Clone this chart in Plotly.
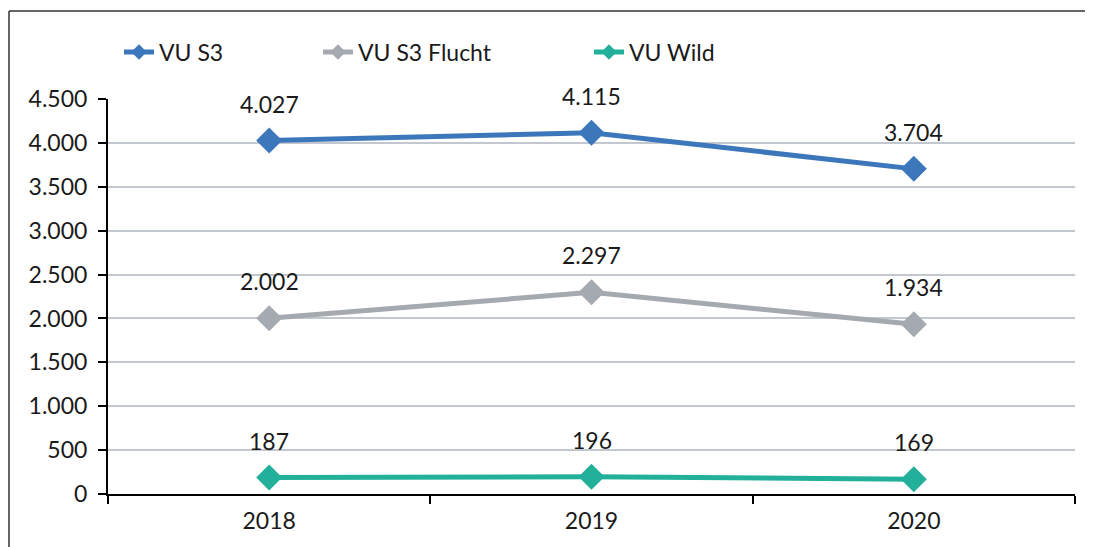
import plotly.graph_objects as go

years = ["2018", "2019", "2020"]
vu_s3 = [4027, 4115, 3704]
vu_s3_flucht = [2002, 2297, 1934]
vu_wild = [187, 196, 169]
series_names = ["VU S3", "VU S3 Flucht", "VU Wild"]
colors = ["#3d77bb", "#a5aab0", "#22b09a"]
y_ticks = [0, 500, 1000, 1500, 2000, 2500, 3000, 3500, 4000, 4500]

# page has an 8px body margin; figure coordinates = screen - 8
OFF = 8
W, H = 1093 - OFF, 547 - OFF
L = 108 - OFF
T = 99 - OFF
R = W - (1075 - OFF)
B = H - (494 - OFF)
pw, ph = W - L - R, H - T - B

def px_x(screen_x):
    return (screen_x - OFF - L) / pw

def px_y(screen_y):
    return (H - B - (screen_y - OFF)) / ph

FONT = "Lato, 'Noto Sans', sans-serif"
FS = 23
TXT = "#1a1a1a"

fig = go.Figure()
legend_names = ["legend", "legend2", "legend3"]
legend_px = [119, 318, 589]
for vals, name, col, lg in zip([vu_s3, vu_s3_flucht, vu_wild], series_names, colors, legend_names):
    fig.add_trace(go.Scatter(
        x=years, y=vals, name=name, mode="lines+markers",
        line=dict(color=col, width=5),
        marker=dict(symbol="diamond", size=20, color=col),
        legend=lg,
    ))
    for i, yv in enumerate(vals):
        fig.add_annotation(x=i, y=yv, xref="x", yref="y",
                           text=f"{yv:,}".replace(",", "."),
                           showarrow=False, yshift=37,
                           font=dict(family=FONT, size=FS, color=TXT))

leg_common = dict(orientation="h", yanchor="middle", xanchor="left",
                  font=dict(family=FONT, size=FS, color=TXT),
                  bgcolor="rgba(0,0,0,0)", itemsizing="constant",
                  tracegroupgap=0)
layout_legends = {}
for lg, xp in zip(legend_names, legend_px):
    layout_legends[lg] = dict(x=px_x(xp), y=px_y(52), **leg_common)

fig.update_layout(
    width=W, height=H,
    margin=dict(l=L, r=R, t=T, b=B),
    paper_bgcolor="white", plot_bgcolor="white",
    separators=",.",
    font=dict(family=FONT, size=FS, color=TXT),
    showlegend=True,
    **layout_legends,
)

fig.update_xaxes(
    type="category", range=[-0.5, 2.5],
    showline=True, linecolor="black", linewidth=2,
    ticks="outside", tickson="boundaries", ticklen=8, tickwidth=2, tickcolor="black",
    showgrid=False, zeroline=False, ticklabelstandoff=5,
    tickfont=dict(family=FONT, size=FS, color=TXT),
)
fig.update_yaxes(
    range=[0, 4500], tickvals=y_ticks, tickformat=",d",
    showline=True, linecolor="black", linewidth=2,
    ticks="outside", ticklen=8, tickwidth=2, tickcolor="black",
    showgrid=True, gridcolor="#c3c7cf", gridwidth=1.5, zeroline=False,
    ticklabelstandoff=6,
    tickfont=dict(family=FONT, size=FS, color=TXT),
)

# outer chart frame (only top and left edges visible in the cropped image)
fig.add_shape(type="line", xref="paper", yref="paper",
              x0=px_x(9), x1=px_x(1100), y0=px_y(11), y1=px_y(11),
              line=dict(color="#333333", width=1.5))
fig.add_shape(type="line", xref="paper", yref="paper",
              x0=px_x(9), x1=px_x(9), y0=px_y(11), y1=px_y(560),
              line=dict(color="#333333", width=1.5))

fig.write_html("out.html")
